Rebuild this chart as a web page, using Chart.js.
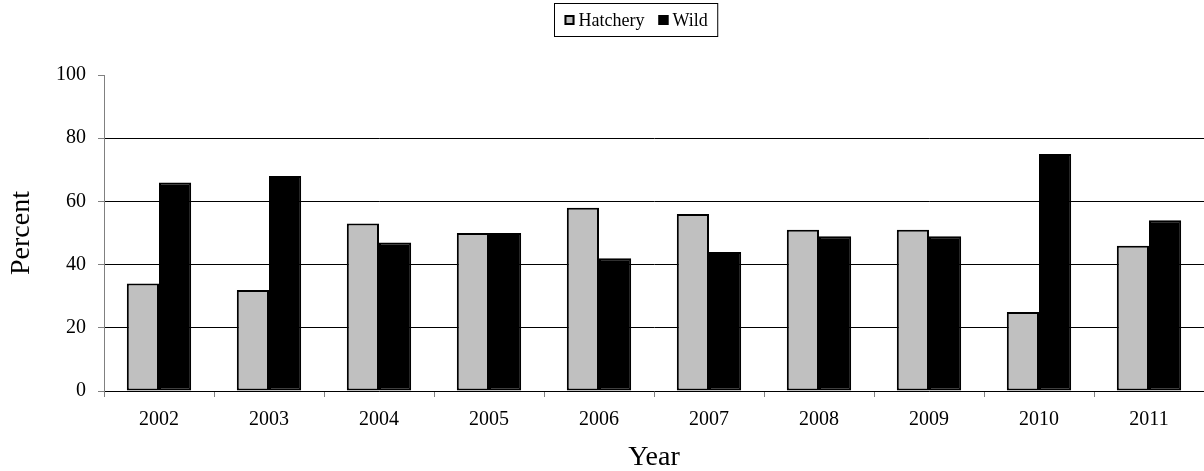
<!DOCTYPE html>
<html>
<head>
<meta charset="utf-8">
<script src="https://cdn.jsdelivr.net/npm/chart.js@4.4.1/dist/chart.umd.min.js"></script>
<style>
  html, body { margin: 0; padding: 0; background: #fff; }
  #wrap { width: 1204px; height: 471px; position: relative; }
</style>
</head>
<body>
<div id="wrap"><canvas id="chart"></canvas></div>
<script>
const years = ['2002', '2003', '2004', '2005', '2006', '2007', '2008', '2009', '2010', '2011'];
const hatchery = [34, 32, 53, 50, 58, 56, 51, 51, 25, 46];
const wild = [66, 68, 47, 50, 42, 44, 49, 49, 75, 54];
const yTicks = [0, 20, 40, 60, 80, 100];

const serif = '"Liberation Serif", "Times New Roman", serif';

// boxed legend centred above the plot
const boxLegend = {
    id: 'boxLegend',
    afterDraw(chart) {
        const ctx = chart.ctx;
        ctx.save();
        ctx.font = '18px ' + serif;
        ctx.textBaseline = 'middle';
        const sq = 10, gapSq = 4, gapItem = 14, padX = 10;
        const items = chart.data.datasets.map(ds => ({ label: ds.label, fill: ds.backgroundColor }));
        let total = 0;
        items.forEach((it, i) => {
            it.w = ctx.measureText(it.label).width;
            total += sq + gapSq + it.w + (i < items.length - 1 ? gapItem : 0);
        });
        const boxW = total + padX * 2, boxH = 33;
        const bx = Math.round(636 - boxW / 2) + 0.5, by = 3.5;
        ctx.strokeStyle = '#000';
        ctx.lineWidth = 1;
        ctx.strokeRect(bx, by, boxW, boxH);
        let x = bx + padX;
        const cy = by + boxH / 2;
        items.forEach(it => {
            ctx.fillStyle = it.fill;
            ctx.fillRect(x, cy - sq / 2, sq, sq);
            ctx.lineWidth = 2;
            ctx.strokeRect(x + 1, cy - sq / 2 + 1, sq - 2, sq - 2);
            ctx.fillStyle = '#000';
            ctx.fillText(it.label, x + sq + gapSq, cy + 1);
            x += sq + gapSq + it.w + gapItem;
        });
        ctx.restore();
    }
};

new Chart(document.getElementById('chart'), {
    type: 'bar',
    data: {
        labels: years,
        datasets: [
            { label: 'Hatchery', data: hatchery, backgroundColor: '#c0c0c0', borderColor: '#000', borderWidth: 2, borderSkipped: false },
            { label: 'Wild', data: wild, backgroundColor: '#000', borderColor: '#000', borderWidth: 2, borderSkipped: false }
        ]
    },
    options: {
        responsive: true,
        maintainAspectRatio: false,
        animation: false,
        layout: { padding: { top: 75, left: 0, right: 0, bottom: 0 } },
        datasets: { bar: { categoryPercentage: 0.585, barPercentage: 1 } },
        plugins: {
            legend: { display: false },
            tooltip: { enabled: false }
        },
        scales: {
            x: {
                offset: true,
                grid: { offset: true, drawOnChartArea: false, tickLength: 6, tickColor: '#808080', tickWidth: 1 },
                border: { color: '#000', width: 1 },
                ticks: { color: '#000', font: { family: serif, size: 20 }, padding: 11, maxRotation: 0 },
                title: { display: true, text: 'Year', color: '#000', font: { family: serif, size: 28, lineHeight: 1 }, padding: { top: 0, bottom: -1 } },
                afterFit(scale) { scale.height = 80; }
            },
            y: {
                min: 0,
                max: 100,
                afterBuildTicks(scale) { scale.ticks = yTicks.map(v => ({ value: v })); },
                grid: {
                    color: ctx => (ctx.tick && (ctx.tick.value === 0 || ctx.tick.value === 100)) ? 'rgba(0,0,0,0)' : '#000',
                    tickColor: '#808080',
                    tickLength: 6,
                    lineWidth: 1
                },
                border: { color: '#808080', width: 1 },
                ticks: { color: '#000', font: { family: serif, size: 20 }, padding: 12 },
                title: { display: true, text: 'Percent', color: '#000', font: { family: serif, size: 28, lineHeight: 1 }, padding: { top: 8, bottom: 0 } },
                afterFit(scale) { scale.width = 104; }
            }
        }
    },
    plugins: [boxLegend]
});
</script>
</body>
</html>
